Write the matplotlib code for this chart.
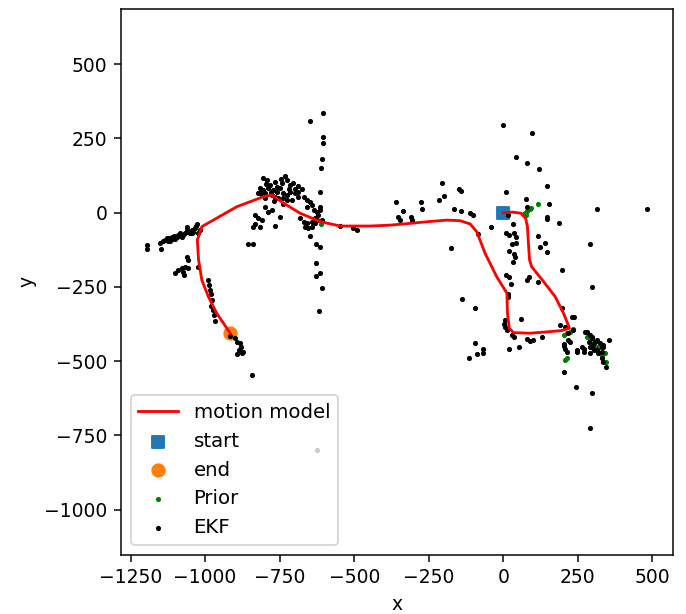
import numpy as np
import matplotlib
matplotlib.use("Agg")
import matplotlib.pyplot as plt

# motion model trajectory
path_x = [0, 30, 60, 75, 81, 84, 88, 95, 135, 174, 202, 222, 196, 140, 90, 34, 20, 14, 12,
          -22, -61, -89, -111, -145, -189, -250, -313, -380, -447, -547, -614, -681, -737,
          -776, -804, -894, -1011, -1026, -1022, -1011, -989, -961, -930, -916]
path_y = [0, 2, -2, -20, -47, -100, -159, -182, -232, -283, -339, -389, -397, -402, -406, -404,
          -389, -339, -271, -216, -137, -64, -38, -27, -25, -30, -36, -42, -45, -45, -30, -2,
          32, 60, 54, 20, -47, -92, -159, -227, -283, -339, -385, -406]

start = (0, 0)
end = (-918, -406)

# landmark estimates
ekf_x = [-606, -648, -606, -606, -608, -611, -614, -628, -614, -629, -614, -628, -609, -619,
         -807, -793, -765, -732, -726, -743, -715, -704, -687, -676, -816, -805, -788, -782,
         -771, -760, -749, -738, -726, -715, -698, -687, -670, -659, -648, -642, -821, -810,
         -799, -777, -765, -754, -738, -726, -710, -799, -788, -777, -749, -832, -821, -810,
         -832, -838, -816, -765, -682, -670, -659, -665, -654, -642, -631, -626, -614, -620,
         -631, -609, -648, -547, -503, -491, -614, -855, -838,
         -795, -780, -760, -745, -720, -700, -690, -812, -800, -770, -740, -660, -635, -625, -640,
         -1196, -1196, -1151, -1148, -1134, -1123, -1112, -1101, -1090, -1078, -1067, -1056,
         -1062, -1045, -1034, -1028, -1017, -1023, -1118, -1106, -1095, -1084, -1073, -1051,
         -1039, -1140, -1129, -1110, -1085, -1060, -1045, -1030, -1120,
         -1062, -1058, -1067, -1078, -1090, -1101, -1073, -1056, -1070, -1025,
         -991, -987, -983, -980, -976, -980, -972, -969, -967, -916, -900, -894, -883, -879,
         -888, -877, -894, -872, -842, -625,
         0, 95, 43, 81, 120, 148, 315, 481, 9, 76, 154, -204, -147, -142, -214, -199, -277,
         -271, -361, -338, -352, -346, -310, -305, -167, -143, -111, -100, -42, -176, -84, 17,
         34, 9, 20, 36, 42, 28, 43, 19, 36, 40, 32, 81, 148, 148, 187, 116, 123, 140, 148, 291,
         196, 297, 9, 20, 25, 79, 86, 118, 15, 17, -137, -95, 58, 6, 3, 6, 12, 28, 36, 79, 90,
         101, 129, 20, 54, -95, -67, -67, -89, -114, 230, 237, 235, 202, 207, 213, 224, 246, 263,
         280, 291, 297, 314, 325, 336, 353, 330, 305, 345, 205, 243, 297, 291,
         196, 190, 207, 218, 202, 218, 246, 269, 274, 297, 286, 291, 302, 308, 330, 336, 314,
         319, 330, 336, 291, 269]
ekf_y = [337, 310, 256, 234, 180, 152, 71, -105, -114, -168, -202, -213, -255, -330,
         116, 110, 105, 124, 110, 99, 93, 99, 90, 79, 82, 76, 82, 93,
         76, 71, 82, 65, 60, 71, 65, 54, 54, 43, 37, 26, 65, 60,
         65, 60, 54, 48, 48, 43, 43, 20, 3, 9, -13, -8, -19, -25,
         -38, -47, -47, -45, -19, -30, -36, -47, -53, -47, -36, 3, 9, -8,
         -19, -25, -78, -45, -53, -60, 20, -105, -105,
         95, 70, 88, 115, 80, 80, 70, 70, 50, 40, 30, 20, 10, -25, -30,
         -109, -123, -103, -123, -92, -97, -83, -90, -75, -81, -70, -64,
         -47, -58, -53, -38, -58, -70, -97, -78, -83, -70, -75, -70,
         -64, -97, -86, -90, -80, -60, -68, -45, -85,
         -148, -161, -182, -187, -193, -202, -199, -187, -210, -182,
         -227, -243, -260, -274, -294, -316, -328, -345, -364, -417, -423, -434, -440, -451,
         -462, -474, -476, -468, -547, -800,
         295, 267, 187, 166, 146, 90, 12, 12, 71, 46, 28, 99, 79, 74, 43, 56, 37,
         12, 37, 4, -16, -25, -16, -25, 12, 7, -2, -8, -48, -120, -73, -8,
         -39, -67, -75, -69, -81, -105, -103, -129, -139, -148, -165, 20, -13, -22, -34, -78,
         -114, -103, -131, -105, -193, -249, -210, -215, -241, -227, -218, -232, -274, -285,
         -292, -322, -359, -361, -375, -384, -395, -412, -418, -427, -431, -429, -420, -460,
         -451, -440, -460, -474, -476, -488, -350, -352, -395, -449, -460, -468, -434, -462,
         -451, -401, -412, -423, -429, -440, -451, -429, -468, -462, -519, -535, -588, -608, -726,
         -322, -378, -386, -406, -442, -429, -468, -460, -401, -418, -434, -451, -446, -434,
         -451, -446, -462, -474, -490, -502, -474, -468]

prior_x = [68, 73, 79, 88, 93, 76, 116, 202, 213, 224, 235, 280, 291, 302, 319, 325, 330,
           341, 345, 213, 207, 314, 302, -610]
prior_y = [-4, 0, 7, 11, 15, -8, 28, -412, -406, -401, -393, -418, -423, -440, -457, -471,
           -483, -474, -502, -490, -496, -451, -457, -38]

fig = plt.figure(figsize=(686 / 135, 614 / 135), dpi=135)
ax = fig.add_axes([0.176, 0.0961, 0.805, 0.8897])

ax.plot(path_x, path_y, 'r', label='motion model')
ax.scatter(start[0], start[1], marker='s', s=44, label='start')
ax.scatter(end[0], end[1], marker='o', s=44, label='end')
ax.scatter(prior_x, prior_y, c='g', s=3, label='Prior')
ax.scatter(ekf_x, ekf_y, c='k', s=3, label='EKF')

ax.set_xlim(-1283, 569)
ax.set_ylim(-1153, 687)
ax.set_xticks([-1250, -1000, -750, -500, -250, 0, 250, 500])
ax.set_yticks([-1000, -750, -500, -250, 0, 250, 500])
ax.set_xlabel('x')
ax.set_ylabel('y')
ax.legend(loc='lower left', fontsize=10.5)

fig.savefig('out.png', dpi=135)
